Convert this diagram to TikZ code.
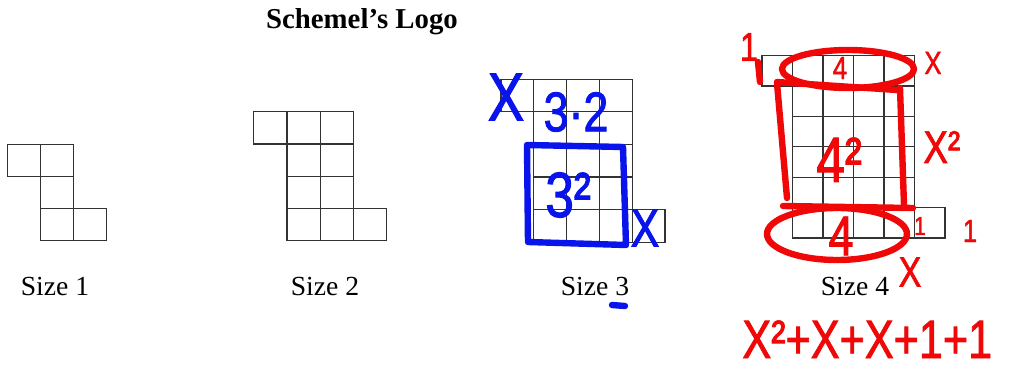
\documentclass[tikz,border=0pt]{standalone}
\usepackage{fontspec}
\setmainfont{Liberation Serif}
\newfontfamily\handfont[FakeStretch=0.8, FakeBold=1.5]{Liberation Sans}
\usepackage{tikz}
\definecolor{inkblue}{RGB}{8,20,235}
\definecolor{inkred}{RGB}{240,8,8}

\begin{document}
\begin{tikzpicture}[x=0.5pt, y=-0.5pt,
    cell/.style={draw=black!80, line width=0.6pt},
    bluepen/.style={draw=inkblue, line width=3.2pt, line cap=round, line join=round},
    redpen/.style={draw=inkred, line width=3.2pt, line cap=round, line join=round},
    bluetext/.style={text=inkblue, inner sep=0pt, font=\handfont\fontsize{#1}{#1}\selectfont},
    redtext/.style={text=inkred, inner sep=0pt, font=\handfont\fontsize{#1}{#1}\selectfont},
    sizelabel/.style={anchor=base, inner sep=0pt, font=\fontsize{13.8}{16}\selectfont}]
    \useasboundingbox (0,0) rectangle (1019,369);

    % Title
    \node[anchor=base, font=\bfseries\fontsize{14.4}{17}\selectfont] (title) at (362,28.5) {Schemel’s Logo};

    % Logos, size 1 to 4
    \foreach \n/\xo/\yo/\cx/\cy in {1/7.3/144.3/33.1/32.2, 2/253.7/111.7/33.2/32.3, 3/501/79.3/32.8/32.6, 4/762/55.7/30.5/30.4} {
        \begin{scope}[shift={(\xo,\yo)}, xscale=\cx, yscale=\cy]
            \pgfmathtruncatemacro\m{\n+1}
            \foreach \i in {0,...,\n} \draw[cell] (\i,0) rectangle ++(1,1);
            \foreach \j in {1,...,\n} \foreach \i in {1,...,\n} \draw[cell] (\i,\j) rectangle ++(1,1);
            \foreach \i in {1,...,\m} \draw[cell] (\i,\m) rectangle ++(1,1);
        \end{scope}
    }

    % Labels
    \foreach \n/\xc in {1/55, 2/325, 3/595, 4/855}
        \node[sizelabel] (size\n) at (\xc,295) {Size \n};

    % Blue notes on size 3
    \node[bluetext=34] (xtop3) at (506,97) {X};
    \node[bluetext=28] (prod3) at (576,112) {3·2};
    \draw[bluepen] (527,145) -- (623,147) -- (626,245) -- (528,242) -- cycle;
    \node[bluetext=32, anchor=base west] (square3) at (545,217) {3²};
    \node[bluetext=27] (xside3) at (645,228) {X};
    \draw[bluepen] (612,305) -- (625,306);

    % Red notes on size 4
    \node[redtext=20] (onetop4) at (749,47) {1};
    \draw[redpen] (758,62) -- (760,82);
    \draw[redpen] (848,69) ellipse [x radius=66, y radius=19];
    \node[redtext=16] (fourtop4) at (840,68) {4};
    \node[redtext=16] (xtop4) at (933,63) {X};
    \draw[redpen] (777,82) -- (897,90);
    \draw[redpen] (777,83) -- (787,198);
    \draw[redpen] (900,88) -- (904,205);
    \draw[redpen] (783,206) -- (913,208);
    \node[redtext=32, anchor=base west] (square4) at (816,182) {4²};
    \node[redtext=23, anchor=base west] (xsquare4) at (923,163) {X²};
    \draw[redpen] (837,234) ellipse [x radius=70, y radius=26];
    \node[redtext=28] (fourbot4) at (841,236) {4};
    \node[redtext=13] (oneside4) at (920,226) {1};
    \node[redtext=16] (oneright4) at (970,231) {1};
    \node[redtext=21] (xbot4) at (910,272) {X};
    \node[redtext=27, anchor=base west] (formula) at (742,358) {X²+X+X+1+1};
\end{tikzpicture}
\end{document}
